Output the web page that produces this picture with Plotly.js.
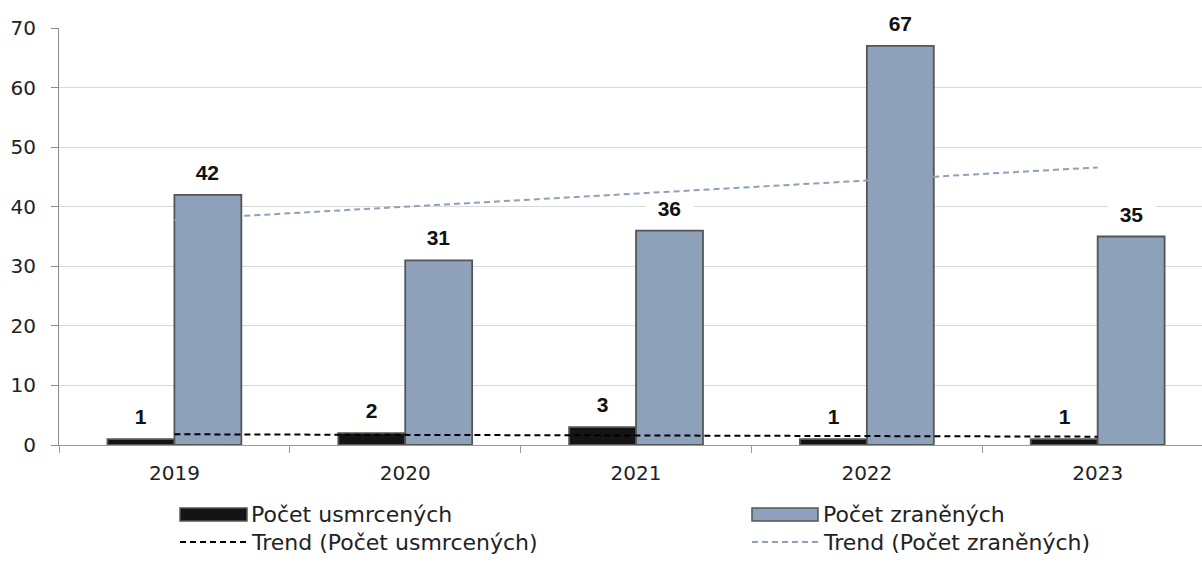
<!DOCTYPE html>
<html><head><meta charset="utf-8">
<script src="https://cdn.plot.ly/plotly-3.0.1.min.js"></script>
<style>html,body{margin:0;padding:0;background:#fff}</style>
</head><body><div id="chart" style="width:1202px;height:563px"></div>
<script>
// ---- data ----
const years = ['2019', '2020', '2021', '2022', '2023'];
const killed = [1, 2, 3, 1, 1];
const injured = [42, 31, 36, 67, 35];
const nameKilled = 'Počet usmrcených';
const nameInjured = 'Počet zraněných';
const nameTrendKilled = 'Trend (Počet usmrcených)';
const nameTrendInjured = 'Trend (Počet zraněných)';
const yTicks = [0, 10, 20, 30, 40, 50, 60, 70];

// linear trend (least squares) over category positions 1..n, as Excel does
function linearTrend(ys) {
  const n = ys.length;
  const xs = ys.map((_, i) => i + 1);
  const mx = xs.reduce((a, b) => a + b, 0) / n;
  const my = ys.reduce((a, b) => a + b, 0) / n;
  let sxy = 0, sxx = 0;
  for (let i = 0; i < n; i++) { sxy += (xs[i] - mx) * (ys[i] - my); sxx += (xs[i] - mx) ** 2; }
  const b = sxy / sxx, a = my - b * mx;
  return xs.map(x => a + b * x);
}

// ---- styles ----
const BLACK = '#141414', BLUE = '#8da1bb', EDGE = '#555555';
const TXT = '#222222';
const FONT = 'DejaVu Sans';
const W = 1202, H = 563, ML = 59, MR = 0, MT = 28, MB = 118;
const PW = W - ML - MR, PH = H - MT - MB;
const px = x => (x - ML) / PW;
const py = y => (H - MB - y) / PH;

const traces = [
  { type: 'bar', x: years, y: killed, name: nameKilled, showlegend: false,
    marker: { color: BLACK, line: { color: EDGE, width: 1.8 } }, hoverinfo: 'skip' },
  { type: 'bar', x: years, y: injured, name: nameInjured, showlegend: false,
    marker: { color: BLUE, line: { color: EDGE, width: 1.8 } }, hoverinfo: 'skip' },
  { type: 'scatter', mode: 'lines', x: years, y: linearTrend(killed), name: nameTrendKilled, showlegend: false,
    line: { color: '#000000', width: 2, dash: '6px,4px' }, hoverinfo: 'skip' },
  { type: 'scatter', mode: 'lines', x: years, y: linearTrend(injured), name: nameTrendInjured, showlegend: false,
    line: { color: BLUE, width: 2, dash: '6px,4px' }, hoverinfo: 'skip' }
];

// data labels (x given as category index)
const annotations = [];
const labelFont = { family: 'Liberation Sans', size: 21, color: '#111111' };
const lbl = v => '&nbsp;&nbsp;<b>' + v + '</b>&nbsp;&nbsp;';
years.forEach((yr, i) => {
  annotations.push({ x: i, y: killed[i], xref: 'x', yref: 'y', text: lbl(killed[i]),
    showarrow: false, xshift: -33.5, yshift: 10, yanchor: 'bottom', bgcolor: '#ffffff', borderpad: 0, font: labelFont });
  annotations.push({ x: i, y: injured[i], xref: 'x', yref: 'y', text: lbl(injured[i]),
    showarrow: false, xshift: 33.5, yshift: 10, yanchor: 'bottom', bgcolor: '#ffffff', borderpad: 0, font: labelFont });
});

// custom legend
const legFont = { family: FONT, size: 22, color: TXT };
const shapes = [
  { type: 'rect', xref: 'paper', yref: 'paper', x0: px(180), x1: px(247), y0: py(521), y1: py(508),
    fillcolor: BLACK, line: { color: EDGE, width: 1.5 } },
  { type: 'rect', xref: 'paper', yref: 'paper', x0: px(752), x1: px(818), y0: py(521), y1: py(508),
    fillcolor: BLUE, line: { color: EDGE, width: 1.5 } },
  { type: 'line', xref: 'paper', yref: 'paper', x0: px(180), x1: px(247), y0: py(542), y1: py(542),
    line: { color: '#000000', width: 2, dash: '6px,4px' } },
  { type: 'line', xref: 'paper', yref: 'paper', x0: px(752), x1: px(818), y0: py(542), y1: py(542),
    line: { color: BLUE, width: 2, dash: '6px,4px' } }
];
[[nameKilled, 249, 514], [nameInjured, 821, 514], [nameTrendKilled, 249, 542], [nameTrendInjured, 821, 542]]
  .forEach(([t, x, y]) => annotations.push({ text: t, xref: 'paper', yref: 'paper', x: px(x), y: py(y),
    xanchor: 'left', yanchor: 'middle', showarrow: false, font: legFont }));

const layout = {
  width: W, height: H,
  margin: { l: ML, r: MR, t: MT, b: MB, pad: 0 },
  paper_bgcolor: '#ffffff', plot_bgcolor: '#ffffff',
  barmode: 'group', bargap: 0.42, bargroupgap: 0,
  showlegend: false,
  font: { family: FONT, color: TXT },
  xaxis: {
    type: 'category', range: [-0.5, 4.452], fixedrange: true,
    showgrid: false, showline: true, linecolor: '#9a9a9a', linewidth: 1,
    ticks: 'outside', tickson: 'boundaries', ticklen: 7, tickcolor: '#9a9a9a',
    tickfont: { family: FONT, size: 20, color: TXT }, ticklabelstandoff: 10
  },
  yaxis: {
    range: [0, 70], tickvals: yTicks, fixedrange: true,
    showgrid: true, gridcolor: '#d9d9d9', gridwidth: 1, zeroline: false,
    showline: true, linecolor: '#8c8c8c', linewidth: 1,
    ticks: 'outside', ticklen: 7, tickcolor: '#8c8c8c',
    tickfont: { family: FONT, size: 20, color: TXT }, ticklabelstandoff: 11
  },
  shapes: shapes,
  annotations: annotations
};

Plotly.newPlot('chart', traces, layout, { staticPlot: true, displayModeBar: false });
</script>
</body></html>
